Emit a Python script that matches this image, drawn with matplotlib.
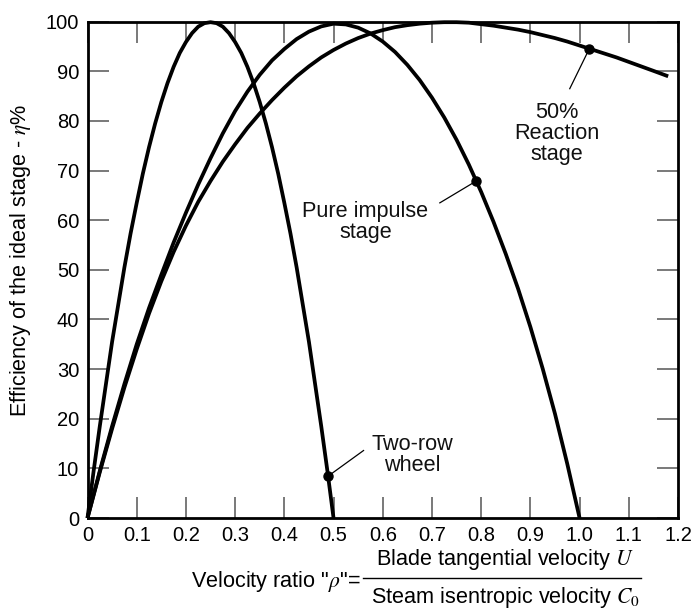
import matplotlib
matplotlib.use("Agg")
import matplotlib.pyplot as plt
from matplotlib.lines import Line2D

plt.rcParams['font.family'] = ['Liberation Sans', 'DejaVu Sans']
plt.rcParams['mathtext.fontset'] = 'stix'

# values (velocity ratio -> efficiency %)
two_row_rho = [0, 0.0125, 0.025, 0.0375, 0.05, 0.0625, 0.075, 0.0875, 0.1, 0.1125,
               0.125, 0.1375, 0.15, 0.1625, 0.175, 0.1875, 0.2, 0.2125, 0.225, 0.2375,
               0.25, 0.2625, 0.275, 0.2875, 0.3, 0.3125, 0.325, 0.3375, 0.35, 0.3625,
               0.375, 0.3875, 0.4, 0.4125, 0.425, 0.4375, 0.45, 0.4625, 0.475, 0.4875, 0.5]
two_row_eta = [0, 9.5, 18.5, 27, 35.5, 43, 50.5, 57.3, 63.5, 69.4,
               74.7, 79.5, 83.8, 87.6, 90.9, 93.7, 95.9, 97.7, 99, 99.7,
               99.9, 99.7, 99, 97.7, 95.9, 93.7, 90.9, 87.6, 83.8, 79.5,
               74.7, 69.4, 63.5, 57.3, 50.5, 43, 35.5, 27, 18.5, 9.5, 0]

impulse_rho = [0, 0.025, 0.05, 0.075, 0.1, 0.125, 0.15, 0.175, 0.2, 0.225, 0.25,
               0.275, 0.3, 0.325, 0.35, 0.375, 0.4, 0.425, 0.45, 0.475, 0.5,
               0.525, 0.55, 0.575, 0.6, 0.625, 0.65, 0.675, 0.7, 0.725, 0.75,
               0.775, 0.8, 0.825, 0.85, 0.875, 0.9, 0.925, 0.95, 0.975, 1.0]
impulse_eta = [0, 9.5, 18.5, 27, 35, 42.3, 49, 55.5, 61.5, 67.2, 72.5,
               77.5, 82, 85.9, 89.3, 92.2, 94.5, 96.5, 98, 99.05, 99.6,
               99.45, 98.8, 97.65, 96, 93.9, 91.3, 88.25, 84.7, 80.7, 76.2,
               71.2, 65.7, 59.7, 53.2, 46.2, 38.5, 30.1, 21, 10.9, 0]

reaction_rho = [0, 0.025, 0.05, 0.075, 0.1, 0.125, 0.15, 0.175, 0.2, 0.225, 0.25,
                0.275, 0.3, 0.325, 0.35, 0.375, 0.4, 0.425, 0.45, 0.475, 0.5,
                0.525, 0.55, 0.575, 0.6, 0.625, 0.65, 0.675, 0.7, 0.725, 0.75,
                0.775, 0.8, 0.825, 0.85, 0.875, 0.9, 0.925, 0.95, 0.975, 1.0,
                1.025, 1.05, 1.075, 1.1, 1.125, 1.15, 1.18]
reaction_eta = [0, 9.25, 18, 26.3, 34, 41.2, 47.7, 53.6, 58.9, 63.7, 67.9,
                71.8, 75.3, 78.6, 81.5, 84.2, 86.7, 89, 91, 92.8, 94.3,
                95.6, 96.7, 97.6, 98.3, 98.9, 99.3, 99.6, 99.8, 99.9, 99.9,
                99.8, 99.5, 99.2, 98.8, 98.4, 97.9, 97.3, 96.7, 96, 95.2,
                94.4, 93.6, 92.8, 91.9, 91, 90.1, 89]

# marked points and their labels
labels = ["Two-row\nwheel", "Pure impulse\nstage", "50%\nReaction\nstage"]
marker_rho = [0.4885, 0.79, 1.02]
marker_eta = [8.4, 67.9, 94.6]
text_rho = [0.66, 0.565, 0.953]
text_eta = [12.7, 59.7, 77.5]
leader_rho = [0.561, 0.716, 0.98]
leader_eta = [13.6, 63.5, 86.5]

x_ticks = [0, 0.1, 0.2, 0.3, 0.4, 0.5, 0.6, 0.7, 0.8, 0.9, 1.0, 1.1, 1.2]
x_ticklabels = ["0", "0.1", "0.2", "0.3", "0.4", "0.5", "0.6", "0.7",
                "0.8", "0.9", "1.0", "1.1", "1.2"]
y_ticks = list(range(0, 101, 10))

W, H = 693, 608
fs = 15.6
fig = plt.figure(figsize=(W / 100, H / 100), dpi=100)
ax = fig.add_axes([87.5 / W, 1 - 518 / H, (678 - 87.5) / W, (518 - 21.7) / H])

for rho, eta in [(two_row_rho, two_row_eta), (impulse_rho, impulse_eta),
                 (reaction_rho, reaction_eta)]:
    ax.plot(rho, eta, color='black', lw=2.7, solid_capstyle='butt',
            solid_joinstyle='round', clip_on=False, zorder=3)

ax.plot(marker_rho, marker_eta, 'o', color='black', ms=6.5, zorder=4, clip_on=False)

for lab, mr, me, lr, le, tr, te in zip(labels, marker_rho, marker_eta, leader_rho,
                                       leader_eta, text_rho, text_eta):
    ax.plot([mr, lr], [me, le], color='black', lw=0.9, zorder=3)
    ax.text(tr, te, lab, ha='center', va='center', fontsize=fs,
            linespacing=1.0, color='#111111')

ax.set_xlim(0, 1.2)
ax.set_ylim(0, 100)
ax.set_xticks(x_ticks)
ax.set_xticklabels(x_ticklabels)
ax.set_yticks(y_ticks)
ax.tick_params(direction='in', length=15, width=1.1, color='#555555',
               top=True, right=True, labelsize=14.5)
ax.tick_params(axis='x', pad=6)
ax.tick_params(axis='y', pad=6)
for s in ax.spines.values():
    s.set_linewidth(2.0)

ax.set_ylabel("Efficiency of the ideal stage - $\\eta$%", fontsize=fs)
ax.yaxis.set_label_coords((33 - 87.5) / (678 - 87.5), (518 - 260) / (518 - 21.7))

# x label written as a fraction
fig.text(361 / W, 1 - 582 / H, 'Velocity ratio "$\\rho$"=', ha='right', va='center',
         fontsize=fs)
fig.text(505 / W, 1 - 559 / H, "Blade tangential velocity $U$", ha='center',
         va='center', fontsize=fs)
fig.text(505 / W, 1 - 597 / H, "Steam isentropic velocity $C_0$", ha='center',
         va='center', fontsize=fs)
fig.add_artist(Line2D([363 / W, 641 / W], [1 - 578 / H, 1 - 578 / H],
                      color='black', lw=1.0, transform=fig.transFigure))

fig.savefig("out.png", dpi=100)
